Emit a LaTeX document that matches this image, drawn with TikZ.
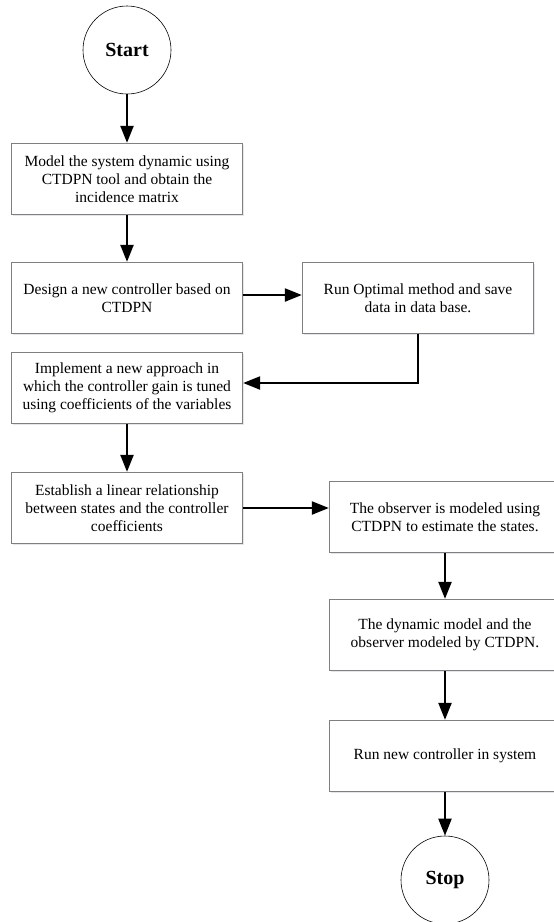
\documentclass[tikz,border=0pt]{standalone}
\usepackage{fontspec}
\setmainfont{Liberation Serif}
\usetikzlibrary{positioning,arrows.meta,shadows}

\begin{document}
\begin{tikzpicture}[x=1pt,y=1pt,
    every node/.style={align=center,font=\fontsize{15.5}{18}\selectfont},
    stepbox/.style={draw=black!50,line width=1.3pt,fill=white,
      minimum width=231pt,minimum height=71pt,inner sep=3pt,
      drop shadow={shadow xshift=1.5pt,shadow yshift=-1.5pt,fill=blue!8!gray!30,opacity=0.6}},
    termnode/.style={draw,circle,line width=0.6pt,minimum size=88pt,
      font=\fontsize{20}{24}\selectfont\bfseries},
    flow/.style={-{Triangle[length=17pt,width=13pt]},line width=2.2pt},
    node distance=120pt
    ]
    \useasboundingbox (0,0) rectangle (554,-922);

    \node (start) [termnode] at (127,-50) {Start};
    \node (model) [stepbox,node distance=129pt,below of=start] {Model the system dynamic using\\CTDPN tool and obtain the\\incidence matrix};
    \node (design) [stepbox,node distance=119pt,below of=model] {Design a new controller based on\\CTDPN};
    \node (optimal) [stepbox,node distance=291pt,right of=design] {Run Optimal method and save\\data in data base.};
    \node (implement) [stepbox,node distance=90pt,below of=design] {Implement a new approach in\\which the controller gain is tuned\\using coefficients of the variables};
    \node (establish) [stepbox,below of=implement] {Establish a linear relationship\\between states and the controller\\coefficients};
    \node (observer) [stepbox] at (445,-517) {The observer is modeled using\\CTDPN to estimate the states.};
    \node (dynamic) [stepbox,node distance=118pt,below of=observer] {The dynamic model and the\\observer modeled by CTDPN.};
    \node (runnew) [stepbox,node distance=121pt,below of=dynamic] {Run new controller in system};
    \node (stop) [termnode,node distance=124pt,below of=runnew] {Stop};

    % the arrows
    \draw [flow] (start) -- (model);
    \draw [flow] (model) -- (design);
    \draw [flow] ([yshift=3pt]design.east) -- ([yshift=3pt]design.east -| optimal.west);
    \draw [flow] (optimal.south) |- ([yshift=5pt]implement.east);
    \draw [flow] (implement) -- (establish);
    \draw [flow] (establish.east) -- (establish.east -| observer.west);
    \draw [flow] (observer) -- (dynamic);
    \draw [flow] (dynamic) -- (runnew);
    \draw [flow] (runnew) -- (stop);
\end{tikzpicture}
\end{document}
